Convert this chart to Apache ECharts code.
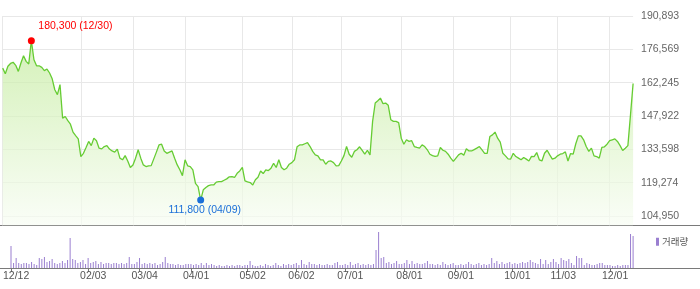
<!DOCTYPE html>
<html><head><meta charset="utf-8">
<script src="https://cdn.jsdelivr.net/npm/echarts@6/dist/echarts.min.js"></script>
<style>html,body{margin:0;padding:0;background:#fff}#c{width:700px;height:289px}</style>
</head><body><div id="c"></div>
<script>
const dates = [
'2024-12-12','2024-12-13','2024-12-16','2024-12-17','2024-12-18','2024-12-19','2024-12-20','2024-12-23','2024-12-24','2024-12-26','2024-12-27','2024-12-30',
'2025-01-02','2025-01-03','2025-01-06','2025-01-07','2025-01-08','2025-01-09','2025-01-10','2025-01-13','2025-01-14','2025-01-15','2025-01-16','2025-01-17','2025-01-20','2025-01-21','2025-01-22','2025-01-23','2025-01-24','2025-01-31',
'2025-02-03','2025-02-04','2025-02-05','2025-02-06','2025-02-07','2025-02-10','2025-02-11','2025-02-12','2025-02-13','2025-02-14','2025-02-17','2025-02-18','2025-02-19','2025-02-20','2025-02-21','2025-02-24','2025-02-25','2025-02-26','2025-02-27','2025-02-28',
'2025-03-04','2025-03-05','2025-03-06','2025-03-07','2025-03-10','2025-03-11','2025-03-12','2025-03-13','2025-03-14','2025-03-17','2025-03-18','2025-03-19','2025-03-20','2025-03-21','2025-03-24','2025-03-25','2025-03-26','2025-03-27','2025-03-28','2025-03-31',
'2025-04-01','2025-04-02','2025-04-03','2025-04-04','2025-04-07','2025-04-08','2025-04-09','2025-04-10','2025-04-11','2025-04-14','2025-04-15','2025-04-16','2025-04-17','2025-04-18','2025-04-21','2025-04-22','2025-04-23','2025-04-24','2025-04-25','2025-04-28','2025-04-29','2025-04-30',
'2025-05-02','2025-05-07','2025-05-08','2025-05-09','2025-05-12','2025-05-13','2025-05-14','2025-05-15','2025-05-16','2025-05-19','2025-05-20','2025-05-21','2025-05-22','2025-05-23','2025-05-26','2025-05-27','2025-05-28','2025-05-29','2025-05-30',
'2025-06-02','2025-06-04','2025-06-05','2025-06-09','2025-06-10','2025-06-11','2025-06-12','2025-06-13','2025-06-16','2025-06-17','2025-06-18','2025-06-19','2025-06-20','2025-06-23','2025-06-24','2025-06-25','2025-06-26','2025-06-27','2025-06-30',
'2025-07-01','2025-07-02','2025-07-03','2025-07-04','2025-07-07','2025-07-08','2025-07-09','2025-07-10','2025-07-11','2025-07-14','2025-07-15','2025-07-16','2025-07-17','2025-07-18','2025-07-21','2025-07-22','2025-07-23','2025-07-24','2025-07-25','2025-07-28','2025-07-29','2025-07-30','2025-07-31',
'2025-08-01','2025-08-04','2025-08-05','2025-08-06','2025-08-07','2025-08-08','2025-08-11','2025-08-12','2025-08-13','2025-08-14','2025-08-18','2025-08-19','2025-08-20','2025-08-21','2025-08-22','2025-08-25','2025-08-26','2025-08-27','2025-08-28','2025-08-29',
'2025-09-01','2025-09-02','2025-09-03','2025-09-04','2025-09-05','2025-09-08','2025-09-09','2025-09-10','2025-09-11','2025-09-12','2025-09-15','2025-09-16','2025-09-17','2025-09-18','2025-09-19','2025-09-22','2025-09-23','2025-09-24','2025-09-25','2025-09-26','2025-09-29','2025-09-30',
'2025-10-01','2025-10-02','2025-10-10','2025-10-13','2025-10-14','2025-10-15','2025-10-16','2025-10-17','2025-10-20','2025-10-21','2025-10-22','2025-10-23','2025-10-24','2025-10-27','2025-10-28','2025-10-29','2025-10-30','2025-10-31',
'2025-11-03','2025-11-04','2025-11-05','2025-11-06','2025-11-07','2025-11-10','2025-11-11','2025-11-12','2025-11-13','2025-11-14','2025-11-17','2025-11-18','2025-11-19','2025-11-20','2025-11-21','2025-11-24','2025-11-25','2025-11-26','2025-11-27','2025-11-28',
'2025-12-01','2025-12-02','2025-12-03','2025-12-04','2025-12-05','2025-12-08','2025-12-09','2025-12-10','2025-12-11','2025-12-12'
];

const closePrice = [
168500,166100,169300,170500,171000,169700,167100,170700,173800,171400,
170300,180300,172100,169500,169500,168800,167400,168100,166400,163900,
159200,157100,161400,147000,147700,145900,144400,141000,139500,138100,
130500,131900,134400,137000,135200,138400,137300,134100,133800,134800,
135200,133700,132900,132400,133700,129800,129100,130900,128600,125800,
126900,129800,133400,129800,126900,126200,126500,126600,129500,132400,
135500,135800,132900,131900,132400,132900,129800,126900,124800,122300,
129100,126500,126200,124800,119000,117600,111800,116200,117200,118000,
118300,118300,119500,119700,119700,120300,120900,121800,121900,121500,
123300,124300,125800,120000,119600,119300,118300,120500,121600,124300,
123200,124800,124500,125500,127600,125800,129100,125800,124800,125500,
127200,127900,129100,134700,135500,135500,136000,136500,134800,132700,
131200,130800,129100,129100,127200,128400,128600,127900,126500,126600,
128600,130900,134800,131500,130200,132700,133400,134700,133100,131500,
133200,131200,145600,153500,154500,155600,153200,153500,152500,146300,
145600,145600,145100,138400,135800,137700,137000,137300,134800,134400,
134100,135500,134800,133400,131500,130900,130600,130800,134400,133200,
132700,131500,129800,128400,129800,131200,131900,131100,133800,132900,
132900,133500,134100,134800,133400,131900,131900,139100,139800,141000,
138400,136700,131900,130800,129500,129400,131900,130500,129800,129100,
130100,129400,128600,130600,130500,132200,129100,128600,131900,133200,
131200,129400,129800,130800,131500,131800,132500,128600,131800,131500,
136000,139400,139400,137700,134800,132700,134100,130800,130500,129800,
134400,134700,135800,137300,137700,138100,137000,135200,133100,134100,
135200,148400,161900
];

const volume = [
22,5,10,5,4,5,5,4,6,4,
3,10,9,11,6,7,9,5,4,5,
7,5,8,30,9,8,5,6,8,4,
10,5,6,7,4,6,4,5,5,4,
5,5,4,5,4,5,11,4,4,6,
10,4,5,4,5,4,5,3,4,6,
11,5,4,4,3,4,3,3,4,4,
4,3,4,3,5,3,5,3,4,3,
2,3,2,2,3,2,3,2,3,3,
2,3,3,7,3,2,2,3,2,4,
3,2,3,5,3,2,4,3,4,3,
4,5,3,8,4,3,6,4,4,3,
4,3,3,4,3,3,5,6,3,3,
4,3,6,3,4,5,3,4,3,4,
3,4,18,36,10,11,5,6,4,5,
7,4,4,5,8,4,7,4,5,4,
4,5,7,4,4,3,4,3,6,4,
3,4,5,3,3,4,3,4,6,4,
3,4,5,3,4,3,4,10,5,7,
4,6,4,5,6,4,5,4,5,6,
5,6,8,6,5,4,9,4,8,4,
6,9,6,4,10,8,7,9,5,3,
12,10,10,3,5,4,3,3,4,5,
5,3,3,3,2,2,3,2,3,3,
3,34,32
];

const priceTicks = [104950, 119274, 133598, 147922, 162245, 176569, 190893];
const dateTicks = ['2024-12-12','2025-02-03','2025-03-04','2025-04-01','2025-05-02','2025-06-02','2025-07-01','2025-08-01','2025-09-01','2025-10-01','2025-11-03','2025-12-01'];

const FONT = 'Liberation Sans';
const fmt = v => Number(v).toLocaleString('en-US');
const md = d => d.slice(5).replace('-', '/');
const isTick = (idx, val) => dateTicks.indexOf(val) >= 0;

let iMax = 0, iMin = 0;
closePrice.forEach((v, i) => { if (v > closePrice[iMax]) iMax = i; if (v < closePrice[iMin]) iMin = i; });

const chart = echarts.init(document.getElementById('c'), null, {renderer: 'canvas'});
chart.setOption({
  animation: false,
  backgroundColor: '#fff',
  textStyle: {fontFamily: FONT},
  grid: [
    {left: 2.7, right: 66.9, top: 16, bottom: 63.7},
    {left: 2.7, right: 66.9, top: 226, bottom: 21}
  ],
  legend: {
    data: ['거래량'], left: 651, top: 232, icon: 'rect', itemWidth: 3, itemHeight: 8,
    selectedMode: false,
    textStyle: {fontSize: 9.5, color: '#555', fontFamily: 'Noto Sans CJK KR', padding: [0,0,0,-2]}
  },
  xAxis: [
    {type: 'category', gridIndex: 0, data: dates, boundaryGap: false,
     axisLine: {show: false}, axisTick: {show: false}, axisLabel: {show: false},
     splitLine: {show: true, interval: isTick, lineStyle: {color: '#e8e8e8', width: 1}}},
    {type: 'category', gridIndex: 1, data: dates, boundaryGap: false,
     axisLine: {show: false},
     axisTick: {show: true, interval: isTick, length: 4, lineStyle: {color: '#777'}},
     axisLabel: {show: true, interval: isTick, formatter: v => md(v), align: 'left',
                 padding: [0, 0, 0, -8], margin: 3, color: '#555', fontSize: 10.5, fontFamily: FONT},
     splitLine: {show: false}}
  ],
  yAxis: [
    {type: 'value', gridIndex: 0, position: 'right', min: 100953, max: 190893,
     axisLine: {show: false}, axisTick: {show: false, customValues: priceTicks},
     axisLabel: {customValues: priceTicks, formatter: v => fmt(v), margin: 8, color: '#666', fontSize: 10.5, fontFamily: FONT},
     splitLine: {show: true, lineStyle: {color: '#e8e8e8', width: 1}}},
    {type: 'value', gridIndex: 1, min: 0, max: 42, show: false, splitLine: {show: false}}
  ],
  series: [
    {type: 'line', name: '주가', xAxisIndex: 0, yAxisIndex: 0, data: closePrice,
     symbol: 'none', silent: true,
     lineStyle: {color: '#66cc33', width: 1.3},
     areaStyle: {color: new echarts.graphic.LinearGradient(0, 0, 0, 1, [
        {offset: 0, color: '#c2eb9b'}, {offset: 1, color: '#f8fdf4'}])},
     markPoint: {
       symbol: 'circle', symbolSize: 7, silent: true,
       data: [
         {coord: [iMax, closePrice[iMax]], itemStyle: {color: '#ff0000'},
          label: {show: true, formatter: fmt(closePrice[iMax]) + ' (' + md(dates[iMax]) + ')',
                  position: 'inside', align: 'left', verticalAlign: 'middle', offset: [7, -15],
                  color: '#ff0000', fontSize: 10.5, fontFamily: FONT}},
         {coord: [iMin, closePrice[iMin]], itemStyle: {color: '#1a6fd8'},
          label: {show: true, formatter: fmt(closePrice[iMin]) + ' (' + md(dates[iMin]) + ')',
                  position: 'inside', align: 'center', verticalAlign: 'middle', offset: [4, 10],
                  color: '#1a6fd8', fontSize: 10.5, fontFamily: FONT}}
       ]
     }},
    {type: 'bar', name: '거래량', xAxisIndex: 1, yAxisIndex: 1, data: volume,
     barWidth: 1, silent: true, itemStyle: {color: '#9a7fd0'}}
  ],
  graphic: [
    {type: 'line', silent: true, shape: {x1: 0, y1: 225.5, x2: 700, y2: 225.5}, style: {stroke: '#7a7a7a', lineWidth: 1}},
    {type: 'line', silent: true, shape: {x1: 0, y1: 268.5, x2: 700, y2: 268.5}, style: {stroke: '#7a7a7a', lineWidth: 1}}
  ]
});
</script>
</body></html>
